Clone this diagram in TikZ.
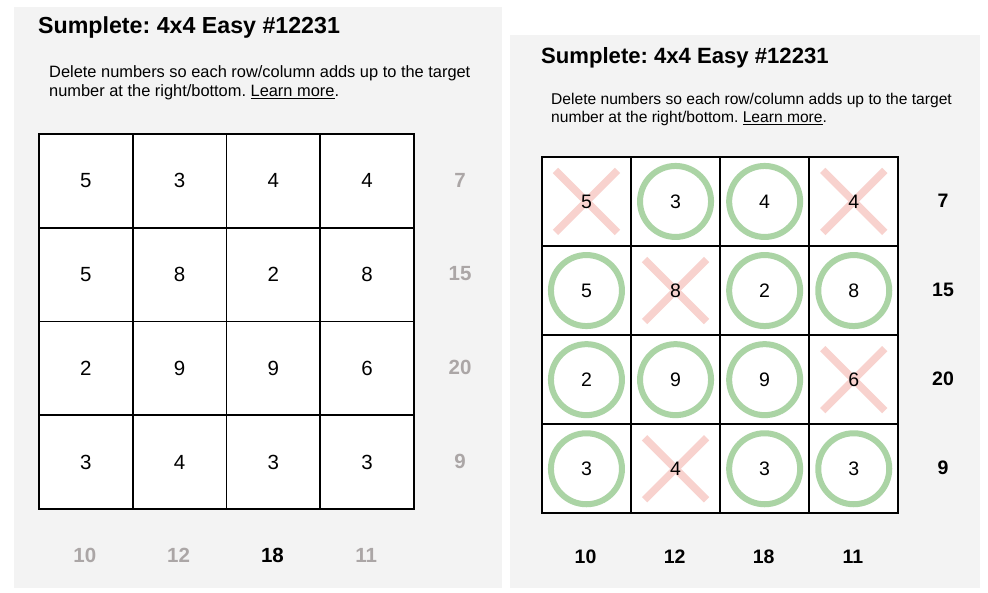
\documentclass[tikz,border=0pt]{standalone}
\usepackage{fontspec}
\setmainfont{Liberation Sans}
\frenchspacing
\begin{document}
\begin{tikzpicture}[x=1pt,y=-1pt,
  cellbox/.style={draw=black,line width=1.8pt,fill=white,minimum width=#1,minimum height=#1,inner sep=0pt,anchor=north west},
  numL/.style={font=\fontsize{20.5}{20.5}\selectfont,text=black},
  numR/.style={font=\fontsize{19.5}{19.5}\selectfont,text=black},
  tgtL/.style={font=\fontsize{20.5}{20.5}\selectfont\bfseries,text=#1},
  tgtR/.style={font=\fontsize{19.5}{19.5}\selectfont\bfseries,text=black},
  title/.style={font=\fontsize{#1}{#1}\selectfont\bfseries,anchor=base west,inner sep=0pt},
  desc/.style={font=\fontsize{#1}{#1}\selectfont,anchor=base west,inner sep=0pt},
  keep/.style={draw=keepgreen,line width=6pt,circle,minimum size=71pt,inner sep=0pt},
  cut/.style={draw=cutpink,line width=7.5pt}
]
\definecolor{panelbg}{HTML}{F3F3F3}
\definecolor{dimgray}{HTML}{ABA6A6}
\definecolor{keepgreen}{HTML}{ABD4A5}
\definecolor{cutpink}{HTML}{F8D2CE}
\useasboundingbox[fill=white] (0,0) rectangle (988,592);

% ---------- left panel ----------
\fill[panelbg] (14,7) rectangle (502,588);
\node[title=23.2] (lt) at (38,33) {Sumplete: 4x4 Easy \#12231};
\node[desc=16.4] (ld1) at (49,77.5) {Delete numbers so each row/column adds up to the target};
\node[desc=16.4] (ld2) at (49,96.5) {number at the right/bottom. \underline{Learn more}.};

\def\Lc{93.75}
\foreach \r/\row in {0/{5,3,4,4},1/{5,8,2,8},2/{2,9,9,6},3/{3,4,3,3}}{
  \foreach \v [count=\c from 0] in \row {
    \node[cellbox=\Lc pt] (L\r\c) at (38+\c*\Lc,133+\r*\Lc) {};
    \node[numL] (Ln\r\c) at (L\r\c.center) {\v};
  }
}
\foreach \v [count=\r from 0] in {7,15,20,9}{
  \node[tgtL=dimgray] (Lrow\r) at (460,180+\r*\Lc) {\v};
}
\node[tgtL=dimgray] (Lcol0) at (84.9,555) {10};
\node[tgtL=dimgray] (Lcol1) at (178.6,555) {12};
\node[tgtL=black]   (Lcol2) at (272.4,555) {18};
\node[tgtL=dimgray] (Lcol3) at (366.1,555) {11};

% ---------- right panel ----------
\fill[panelbg] (510,35) rectangle (980,588);
\node[title=22.1] (rt) at (541,63) {Sumplete: 4x4 Easy \#12231};
\node[desc=15.6] (rd1) at (551,104) {Delete numbers so each row/column adds up to the target};
\node[desc=15.6] (rd2) at (551,122.5) {number at the right/bottom. \underline{Learn more}.};

\def\Rc{89.1}
\foreach \r in {0,...,3}{
  \foreach \c in {0,...,3}{
    \node[cellbox=\Rc pt] (R\r\c) at (541+\c*\Rc,156+\r*\Rc) {};
  }
}
% marks
\foreach \r/\c in {0/1,0/2,1/0,1/2,1/3,2/0,2/1,2/2,3/0,3/2,3/3}{
  \node[keep] (Rk\r\c) at (R\r\c.center) {};
}
\foreach \r/\c in {0/0,0/3,1/1,2/3,3/1}{
  \coordinate (Ra\r\c) at ([shift={(-31,-31)}]R\r\c.center);
  \coordinate (Rb\r\c) at ([shift={(31,31)}]R\r\c.center);
  \coordinate (Rc\r\c) at ([shift={(31,-31)}]R\r\c.center);
  \coordinate (Rd\r\c) at ([shift={(-31,31)}]R\r\c.center);
  \draw[cut] (Ra\r\c) -- (Rb\r\c);
  \draw[cut] (Rc\r\c) -- (Rd\r\c);
}
\foreach \r/\row in {0/{5,3,4,4},1/{5,8,2,8},2/{2,9,9,6},3/{3,4,3,3}}{
  \foreach \v [count=\c from 0] in \row {
    \node[numR] (Rn\r\c) at (R\r\c.center) {\v};
  }
}
\foreach \v [count=\r from 0] in {7,15,20,9}{
  \node[tgtR] (Rrow\r) at (943,200.5+\r*\Rc) {\v};
}
\foreach \v [count=\c from 0] in {10,12,18,11}{
  \node[tgtR] (Rcol\c) at (585.5+\c*\Rc,557) {\v};
}
\end{tikzpicture}
\end{document}
